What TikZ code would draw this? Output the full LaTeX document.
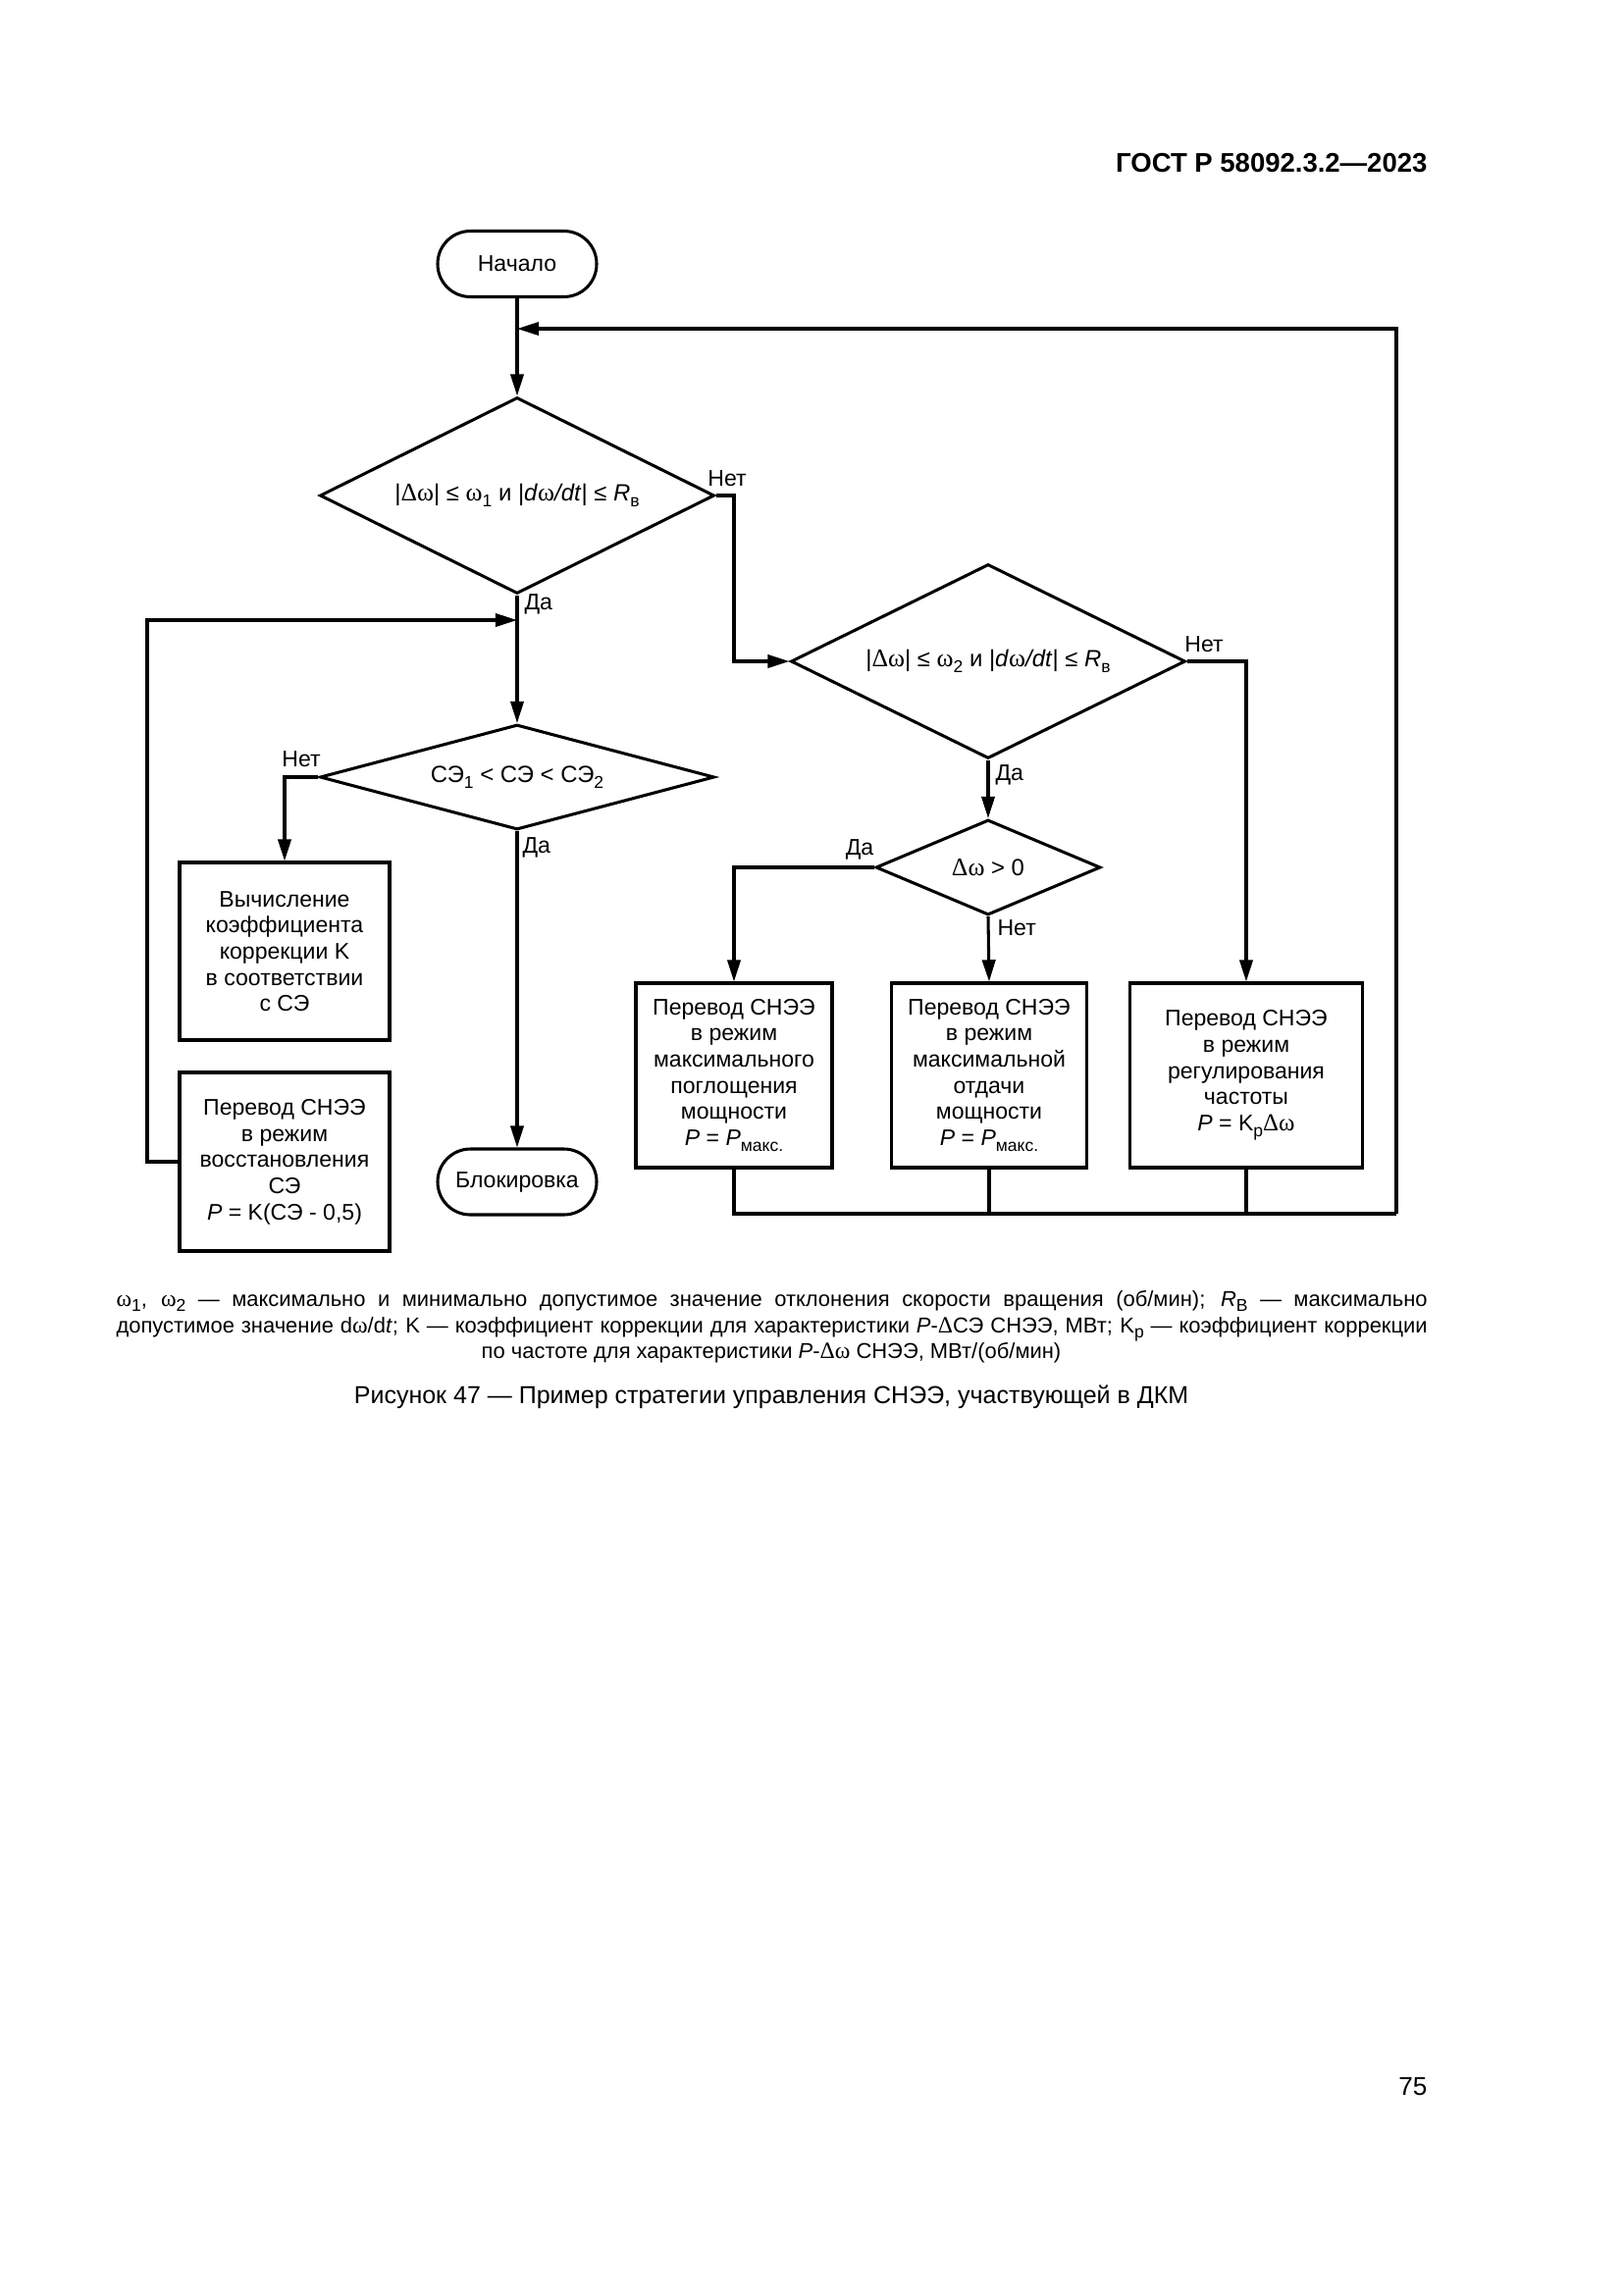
\documentclass[tikz,border=0pt]{standalone}
\usepackage{fontspec}
\setmainfont{Liberation Sans}
\newfontfamily\symf[Scale=1.08]{Liberation Serif}
\usetikzlibrary{arrows.meta,shapes.geometric}
\newcommand\pxl{0.36pt}
\newcommand\omg{{\symf ω}}
\newcommand\Dlt{{\symf Δ}}
\newcommand\lsub[1]{\raisebox{-0.5ex}{\fontsize{6.3}{7}\selectfont #1}}
\newcommand\bfnt{\fontsize{8.3}{9.6}\selectfont}
\newcommand\dfnt{\fontsize{8.6}{9.6}\selectfont}
\newcommand\ffnt{\fontsize{7.9}{9.6}\selectfont}
\newcommand\cfnt{\fontsize{9.0}{11}\selectfont}
\newcommand\pfnt{\fontsize{9.4}{11}\selectfont}
\newcommand\hfnt{\fontsize{9.9}{11}\selectfont\bfseries}
\begin{document}
\begin{tikzpicture}[x=0.36pt,y=-0.36pt,
  ln/.style={line width=1.1pt},
  arr/.style={line width=1.1pt,-{Triangle[length=8pt,width=4.8pt]}},
  proc/.style={draw,line width=1.1pt,rectangle,align=center,inner sep=0pt,font=\bfnt},
  term/.style={draw,line width=1.1pt,rectangle,rounded corners=12pt,minimum width=162*\pxl,minimum height=67*\pxl,inner sep=0pt,font=\bfnt},
  dec/.style={draw,line width=1.1pt,diamond,inner sep=0pt,font=\dfnt},
  lbl/.style={font=\bfnt,inner sep=0pt},
  txt/.style={inner sep=0pt}]
\fill[white] (0,0) rectangle (1654,2339);
\useasboundingbox (0,0) rectangle (1654,2339);

% header
\node[txt,anchor=base east,font=\hfnt] (hdr) at (1455,175) {ГОСТ Р 58092.3.2—2023};

% nodes
\node[term] (start) at (527,269) {Начало};
\node[dec,minimum width=402*\pxl,minimum height=200*\pxl,aspect=2] (d1) at (527,505)
  {|\Dlt\omg| ≤ \omg\lsub{1} и |\textit{d}\omg\textit{/dt}| ≤ \textit{R}\lsub{в}};
\node[dec,minimum width=402*\pxl,minimum height=107*\pxl,aspect=3.75] (d4) at (527,792)
  {СЭ\lsub{1} < СЭ < СЭ\lsub{2}};
\node[proc,minimum width=214*\pxl,minimum height=181*\pxl] (bd) at (290,969.5)
  {Вычисление\\коэффициента\\коррекции K\\в соответствии\\с СЭ};
\node[proc,minimum width=214*\pxl,minimum height=182*\pxl] (be) at (290,1184)
  {Перевод СНЭЭ\\в режим\\восстановления\\СЭ\\\textit{P} = K(СЭ - 0,5)};
\node[term] (block) at (527,1204.5) {Блокировка};
\node[dec,minimum width=402*\pxl,minimum height=198*\pxl,aspect=2] (d2) at (1007,674)
  {|\Dlt\omg| ≤ \omg\lsub{2} и |\textit{d}\omg\textit{/dt}| ≤ \textit{R}\lsub{в}};
\node[dec,minimum width=229*\pxl,minimum height=97*\pxl,aspect=2.36] (d3) at (1007,884)
  {\Dlt\omg{} > 0};
\node[proc,minimum width=200*\pxl,minimum height=188*\pxl] (ba) at (748,1096)
  {Перевод СНЭЭ\\в режим\\максимального\\поглощения\\мощности\\\textit{P} = \textit{P}\lsub{макс.}};
\node[proc,minimum width=199*\pxl,minimum height=188*\pxl] (bb) at (1008,1096)
  {Перевод СНЭЭ\\в режим\\максимальной\\отдачи\\мощности\\\textit{P} = \textit{P}\lsub{макс.}};
\node[proc,minimum width=237*\pxl,minimum height=188*\pxl] (bc) at (1270,1096)
  {Перевод СНЭЭ\\в режим\\регулирования\\частоты\\\textit{P} = K\lsub{р}\Dlt\omg};

% helper coordinates
\coordinate (fbR) at (1423,1237);
\coordinate (fbTop) at (527,335);
\coordinate (nR) at (748,505);
\coordinate (lc) at (150,632);
\coordinate (fbL) at (527,632);

% connectors
\draw[arr] (start.south) -- (d1.north);
\draw[arr] (d1.south) -- (d4.north);
\draw[arr] (d4.west) -| (bd.north);
\draw[arr] (d4.south) -- (block.north);
\draw[arr] (be.west) -| (lc) -- (fbL);
\draw[arr] (d1.east) -- (nR) |- (d2.west);
\draw[arr] (d2.south) -- (d3.north);
\draw[arr] (d2.east) -| (bc.north);
\draw[arr] (d3.west) -| (ba.north);
\draw[arr] (d3.south) -- (bb.north);
\draw[ln] (ba.south) |- (fbR);
\draw[ln] (bb.south) -- (bb.south |- fbR);
\draw[ln] (bc.south) -- (bc.south |- fbR);
\draw[arr] (fbR) |- (fbTop);

% labels
\node[lbl] (l1n) at (741,488) {Нет};
\node[lbl,anchor=west] (l1d) at (534,616) {Да};
\node[lbl] (l2n) at (1227,657) {Нет};
\node[lbl,anchor=west] (l2d) at (1014,790) {Да};
\node[lbl] (l3d) at (876,866) {Да};
\node[lbl,anchor=west] (l3n) at (1016,946) {Нет};
\node[lbl] (l4n) at (307,774) {Нет};
\node[lbl,anchor=west] (l4d) at (532,864) {Да};

% footnote
\node[txt,anchor=base west,font=\ffnt] (fn1) at (118,1331)
  {\makebox[481pt][s]{\omg\lsub{1}, \omg\lsub{2} — максимально и минимально допустимое значение отклонения скорости вращения (об/мин); \textit{R}\lsub{В} — максимально}};
\node[txt,anchor=base west,font=\ffnt] (fn2) at (118,1358)
  {\makebox[481pt][s]{допустимое значение d\omg/d\textit{t}; K — коэффициент коррекции для характеристики \textit{P}-\Dlt СЭ СНЭЭ, МВт; K\lsub{р} — коэффициент коррекции}};
\node[txt,anchor=base,font=\ffnt] (fn3) at (786,1384)
  {по частоте для характеристики \textit{P}-\Dlt\omg{} СНЭЭ, МВт/(об/мин)};
\node[txt,anchor=base,font=\cfnt] (cap) at (786,1430)
  {Рисунок 47 — Пример стратегии управления СНЭЭ, участвующей в ДКМ};

% page number
\node[txt,anchor=base east,font=\pfnt] (pg) at (1455,2135) {75};
\end{tikzpicture}
\end{document}
